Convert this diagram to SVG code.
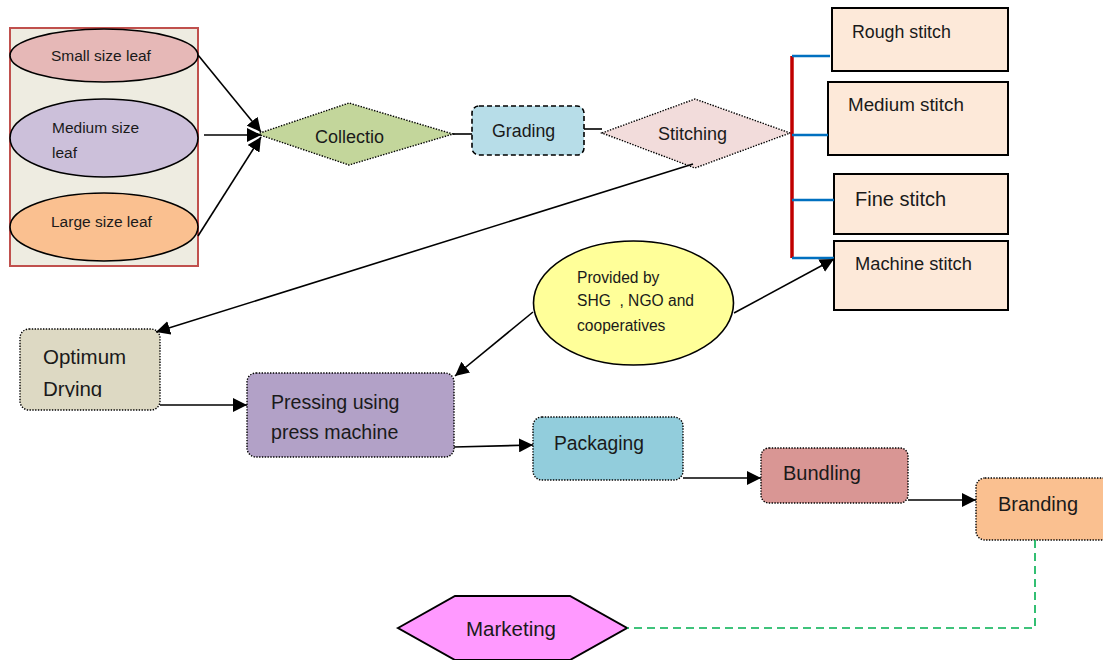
<svg xmlns="http://www.w3.org/2000/svg" width="1103" height="660" viewBox="0 0 1103 660">
<defs>
<marker id="ah" markerUnits="userSpaceOnUse" markerWidth="16" markerHeight="14" refX="14" refY="7" orient="auto"><path d="M0,0 L14,7 L0,14 Z" fill="#000"/></marker>
<clipPath id="dryClip"><rect x="20" y="329" width="140" height="68"/></clipPath>
</defs>
<style>
text{font-family:"Liberation Sans",Arial,sans-serif;fill:#1a1a1a}
.dot{stroke:#000;stroke-width:1.4;stroke-dasharray:1.4 1.4}
.solid{stroke:#000;stroke-width:1.6}
.conn{stroke:#000;stroke-width:1.6;fill:none}
.st{fill:#fde9d9;stroke:#000;stroke-width:2}
.blue{stroke:#0070c0;stroke-width:2.5;fill:none}
</style>
<rect width="1103" height="660" fill="#fff"/>

<g id="leaf-group">
<rect x="10" y="28" width="188" height="238" fill="#eeece1" stroke="#c0504d" stroke-width="2"/>
<g id="small-leaf"><ellipse cx="104" cy="55.5" rx="94" ry="26.5" fill="#e6b8b7" class="solid"/><text x="51" y="61" font-size="15.5">Small size leaf</text></g>
<g id="medium-leaf"><ellipse cx="104" cy="138" rx="94" ry="39" fill="#ccc0da" class="solid"/><text x="52" y="133" font-size="15.5">Medium size</text><text x="52" y="158" font-size="15.5">leaf</text></g>
<g id="large-leaf"><ellipse cx="104" cy="227" rx="94" ry="34" fill="#fac090" class="solid"/><text x="51" y="227" font-size="15.5">Large size leaf</text></g>
</g>

<g id="collection"><polygon points="257,134 349,103 453,134 349,165" fill="#c3d69b" class="dot"/><text x="315" y="143" font-size="18">Collectio</text></g>
<g id="grading"><rect x="472" y="106" width="112" height="49" rx="7" fill="#b7dde8" stroke="#000" stroke-width="1.6" stroke-dasharray="5 3"/><text x="492" y="137" font-size="17.8">Grading</text></g>
<g id="stitching"><polygon points="602,133 695,99 790,133 695,168" fill="#f2dcdb" class="dot"/><text x="658" y="140" font-size="18">Stitching</text></g>

<g id="rough-stitch"><rect x="832" y="8" width="176" height="63" class="st"/><text x="852" y="38" font-size="17.8">Rough stitch</text></g>
<g id="medium-stitch"><rect x="828" y="82" width="180" height="73" class="st"/><text x="848" y="111" font-size="18.8">Medium stitch</text></g>
<g id="fine-stitch"><rect x="834" y="174" width="174" height="60" class="st"/><text x="855" y="206" font-size="20">Fine stitch</text></g>
<g id="machine-stitch"><rect x="834" y="241" width="174" height="69" class="st"/><text x="855" y="270" font-size="18.3">Machine stitch</text></g>

<g id="drying"><rect x="20" y="329" width="140" height="81" rx="9" fill="#ddd9c3" class="dot"/><g clip-path="url(#dryClip)"><text x="43" y="364" font-size="20.5">Optimum</text><text x="43" y="396" font-size="20.5">Drying</text></g></g>
<g id="pressing"><rect x="247" y="373" width="207" height="84" rx="9" fill="#b2a1c7" class="dot"/><text x="271" y="409" font-size="19.6">Pressing using</text><text x="271" y="439" font-size="19.6">press machine</text></g>
<g id="provided"><ellipse cx="633.5" cy="303" rx="100" ry="62" fill="#ffff99" class="solid"/><text x="577" y="283" font-size="15.6">Provided by</text><text x="577" y="306" font-size="15.6" xml:space="preserve">SHG  , NGO and</text><text x="577" y="331" font-size="15.6">cooperatives</text></g>
<g id="packaging"><rect x="533" y="417" width="150" height="63" rx="9" fill="#92cddc" class="dot"/><text x="554" y="450" font-size="19.3">Packaging</text></g>
<g id="bundling"><rect x="761" y="448" width="147" height="55" rx="8" fill="#d99694" class="dot"/><text x="783" y="480" font-size="20">Bundling</text></g>
<g id="branding"><rect x="976" y="478" width="140" height="62" rx="9" fill="#fac090" class="dot"/><text x="998" y="511" font-size="20">Branding</text></g>
<g id="marketing"><polygon points="398,628 455,596 570,596 627,628 570,660 455,660" fill="#ff99ff" stroke="#000" stroke-width="2"/><text x="466" y="636" font-size="20.5">Marketing</text></g>

<g id="connectors">
<line x1="198" y1="55" x2="261" y2="132" class="conn" marker-end="url(#ah)"/>
<line x1="204" y1="135" x2="261" y2="135" class="conn" marker-end="url(#ah)"/>
<line x1="198" y1="236" x2="261" y2="137" class="conn" marker-end="url(#ah)"/>
<line x1="453" y1="134" x2="472" y2="134" class="conn"/>
<line x1="584" y1="129" x2="602" y2="129" class="conn"/>
<line x1="792" y1="56" x2="792" y2="258" stroke="#c00000" stroke-width="3.5"/>
<line x1="792" y1="56" x2="830" y2="56" class="blue"/>
<line x1="792" y1="135" x2="828" y2="135" class="blue"/>
<line x1="792" y1="200" x2="834" y2="200" class="blue"/>
<line x1="792" y1="258" x2="834" y2="258" class="blue"/>
<line x1="693" y1="164" x2="156" y2="332" class="conn" marker-end="url(#ah)"/>
<line x1="160" y1="405" x2="247" y2="405" class="conn" marker-end="url(#ah)"/>
<line x1="533" y1="312" x2="455" y2="376" class="conn" marker-end="url(#ah)"/>
<line x1="734" y1="313" x2="834" y2="259" class="conn" marker-end="url(#ah)"/>
<line x1="454" y1="447" x2="533" y2="445" class="conn" marker-end="url(#ah)"/>
<line x1="683" y1="478" x2="761" y2="478" class="conn" marker-end="url(#ah)"/>
<line x1="908" y1="500" x2="976" y2="500" class="conn" marker-end="url(#ah)"/>
<polyline points="1035,540 1035,628 627,628" fill="none" stroke="#00b050" stroke-width="1.6" stroke-dasharray="8 5"/>
</g>
</svg>
